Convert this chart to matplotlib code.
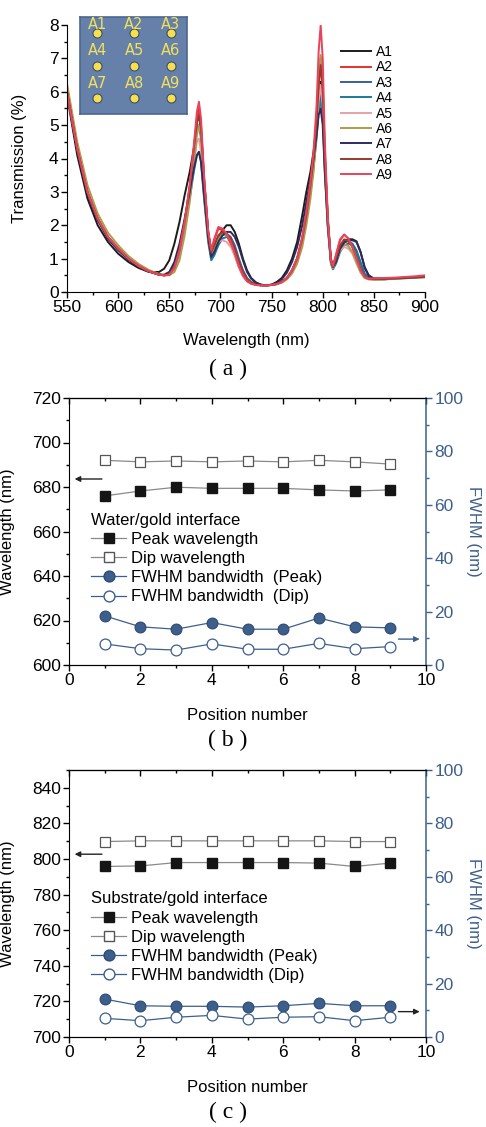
import matplotlib
matplotlib.use("Agg")
import matplotlib.pyplot as plt
from matplotlib.lines import Line2D
from matplotlib.ticker import MultipleLocator

plt.rcParams['font.family'] = ['Liberation Sans', 'DejaVu Sans']

# ---- (a) transmission spectra ----
wl = [550, 560, 570, 580, 590, 600, 610, 620, 630, 640,
      645, 650, 655, 660, 665, 670, 674, 677, 679, 681,
      684, 688, 691, 694, 698, 702, 706, 710, 714, 718,
      722, 726, 730, 735, 740, 745, 750, 755, 760, 765,
      770, 775, 780, 784, 788, 791, 794, 796, 798, 800,
      802, 805, 808, 810, 813, 817, 821, 825, 829, 833,
      837, 841, 845, 850, 860, 870, 880, 890, 900]

A1 = [5.9, 4.1, 2.8, 2.0, 1.5, 1.15, 0.9, 0.72, 0.6, 0.6,
      0.7, 0.95, 1.45, 2.1, 2.9, 3.6, 4.3, 5.1, 5.3, 4.8,
      3.3, 1.8, 1.2, 1.35, 1.65, 1.85, 2.0, 2.0, 1.8, 1.45,
      1.0, 0.65, 0.42, 0.28, 0.22, 0.2, 0.22, 0.3, 0.42, 0.65,
      1.0, 1.5, 2.3, 3.0, 3.6, 4.2, 5.0, 5.8, 6.3, 5.6,
      4.0, 2.2, 1.0, 0.78, 0.95, 1.35, 1.52, 1.58, 1.58, 1.52,
      1.2, 0.75, 0.5, 0.4, 0.4, 0.41, 0.42, 0.44, 0.46]
A2 = [6.0, 4.3, 3.0, 2.2, 1.65, 1.3, 1.0, 0.78, 0.62, 0.52,
      0.5, 0.52, 0.7, 1.2, 2.0, 3.1, 4.2, 5.2, 5.5, 5.0,
      3.4, 1.8, 1.25, 1.55, 1.9, 1.85, 1.7, 1.45, 1.1, 0.75,
      0.48, 0.32, 0.25, 0.21, 0.2, 0.2, 0.21, 0.24, 0.3, 0.42,
      0.65, 1.0, 1.6, 2.3, 3.2, 4.0, 5.2, 6.3, 7.0, 6.2,
      4.2, 2.1, 0.95, 0.78, 1.1, 1.55, 1.72, 1.6, 1.35, 1.0,
      0.65, 0.45, 0.4, 0.4, 0.4, 0.41, 0.43, 0.44, 0.47]
A3 = [6.0, 4.3, 3.0, 2.2, 1.65, 1.3, 1.0, 0.78, 0.62, 0.52,
      0.5, 0.55, 0.8, 1.3, 2.1, 3.1, 4.1, 4.9, 5.0, 4.6,
      3.2, 1.7, 1.05, 1.2, 1.5, 1.7, 1.75, 1.65, 1.4, 1.0,
      0.65, 0.42, 0.3, 0.24, 0.2, 0.2, 0.21, 0.24, 0.3, 0.42,
      0.65, 1.0, 1.6, 2.3, 3.1, 3.8, 4.8, 5.6, 6.0, 5.4,
      3.8, 2.0, 0.9, 0.72, 0.9, 1.3, 1.5, 1.52, 1.45, 1.25,
      0.9, 0.55, 0.42, 0.38, 0.38, 0.4, 0.42, 0.43, 0.45]
A4 = [6.0, 4.3, 3.0, 2.2, 1.65, 1.3, 1.0, 0.78, 0.62, 0.52,
      0.5, 0.52, 0.7, 1.15, 1.9, 2.8, 3.6, 4.1, 4.2, 3.9,
      2.8, 1.5, 0.95, 1.1, 1.4, 1.6, 1.65, 1.6, 1.35, 0.95,
      0.62, 0.4, 0.28, 0.22, 0.2, 0.2, 0.21, 0.24, 0.3, 0.42,
      0.63, 0.98, 1.55, 2.2, 3.0, 3.7, 4.6, 5.4, 5.8, 5.2,
      3.7, 1.9, 0.85, 0.68, 0.85, 1.2, 1.4, 1.45, 1.4, 1.2,
      0.85, 0.52, 0.41, 0.38, 0.38, 0.4, 0.42, 0.43, 0.45]
A5 = [6.0, 4.3, 3.0, 2.2, 1.65, 1.3, 1.0, 0.78, 0.62, 0.52,
      0.5, 0.52, 0.72, 1.2, 2.0, 3.0, 3.9, 4.5, 4.6, 4.2,
      3.0, 1.6, 1.1, 1.3, 1.5, 1.55, 1.5, 1.35, 1.1, 0.78,
      0.5, 0.34, 0.26, 0.21, 0.2, 0.2, 0.21, 0.24, 0.3, 0.42,
      0.62, 0.95, 1.5, 2.2, 3.0, 3.8, 4.9, 5.7, 6.2, 5.6,
      3.9, 2.0, 0.9, 0.72, 0.95, 1.25, 1.35, 1.3, 1.15, 0.85,
      0.58, 0.42, 0.38, 0.37, 0.38, 0.4, 0.41, 0.43, 0.45]
A6 = [6.25, 4.5, 3.2, 2.35, 1.78, 1.4, 1.08, 0.84, 0.66, 0.54,
      0.5, 0.5, 0.6, 0.95, 1.7, 2.7, 3.8, 4.7, 5.0, 4.7,
      3.3, 1.7, 1.1, 1.3, 1.6, 1.75, 1.7, 1.55, 1.25, 0.88,
      0.56, 0.36, 0.27, 0.21, 0.2, 0.2, 0.21, 0.23, 0.28, 0.38,
      0.55, 0.85, 1.35, 2.0, 2.8, 3.6, 4.8, 6.2, 7.1, 6.3,
      4.3, 2.1, 0.9, 0.72, 0.95, 1.3, 1.42, 1.38, 1.2, 0.9,
      0.6, 0.42, 0.38, 0.37, 0.38, 0.4, 0.41, 0.43, 0.44]
A7 = [6.0, 4.25, 2.95, 2.15, 1.6, 1.25, 0.97, 0.76, 0.61, 0.52,
      0.52, 0.6, 0.9, 1.45, 2.2, 3.0, 3.7, 4.1, 4.2, 3.9,
      2.9, 1.6, 1.05, 1.2, 1.5, 1.7, 1.8, 1.8, 1.65, 1.35,
      0.95, 0.6, 0.4, 0.27, 0.21, 0.2, 0.22, 0.27, 0.38, 0.58,
      0.9, 1.35, 2.0, 2.7, 3.4, 4.0, 4.7, 5.3, 5.5, 5.0,
      3.6, 2.0, 0.95, 0.75, 0.9, 1.3, 1.48, 1.55, 1.55, 1.5,
      1.2, 0.72, 0.48, 0.4, 0.4, 0.41, 0.42, 0.44, 0.46]
A8 = [6.0, 4.3, 3.0, 2.2, 1.65, 1.3, 1.0, 0.78, 0.62, 0.52,
      0.5, 0.53, 0.75, 1.25, 2.1, 3.2, 4.3, 5.1, 5.3, 4.9,
      3.4, 1.8, 1.2, 1.4, 1.7, 1.8, 1.75, 1.6, 1.3, 0.92,
      0.6, 0.38, 0.28, 0.22, 0.2, 0.2, 0.21, 0.24, 0.3, 0.42,
      0.64, 1.0, 1.6, 2.3, 3.2, 4.0, 5.1, 6.2, 6.8, 6.0,
      4.1, 2.1, 0.92, 0.75, 1.0, 1.4, 1.58, 1.52, 1.35, 1.05,
      0.7, 0.46, 0.4, 0.39, 0.4, 0.41, 0.43, 0.44, 0.46]
A9 = [6.0, 4.3, 3.0, 2.2, 1.65, 1.3, 1.0, 0.78, 0.62, 0.52,
      0.5, 0.52, 0.72, 1.25, 2.1, 3.2, 4.4, 5.4, 5.7, 5.2,
      3.5, 1.85, 1.25, 1.6, 1.95, 1.9, 1.75, 1.5, 1.15, 0.78,
      0.5, 0.33, 0.25, 0.21, 0.2, 0.2, 0.21, 0.24, 0.3, 0.42,
      0.66, 1.02, 1.65, 2.4, 3.3, 4.2, 5.6, 7.2, 8.0, 7.0,
      4.6, 2.2, 0.95, 0.78, 1.12, 1.58, 1.72, 1.6, 1.35, 1.0,
      0.65, 0.45, 0.4, 0.41, 0.42, 0.43, 0.45, 0.47, 0.5]

spectra = [A1, A2, A3, A4, A5, A6, A7, A8, A9]
names = ['A1', 'A2', 'A3', 'A4', 'A5', 'A6', 'A7', 'A8', 'A9']
colors = ['#1c1c1c', '#e8302a', '#3b5f98', '#1b7a98', '#e6a1a8',
          '#b09a4c', '#2e2c5e', '#9a3a2e', '#e8435a']

# ---- (b) water/gold interface ----
pos = [1, 2, 3, 4, 5, 6, 7, 8, 9]
b_peak = [676.0, 678.2, 679.9, 679.4, 679.4, 679.4, 678.7, 678.2, 678.7]
b_dip = [692.0, 691.3, 691.7, 691.3, 691.7, 691.3, 692.0, 691.3, 690.3]
b_fwhm_peak = [18.4, 14.3, 13.4, 15.9, 13.4, 13.4, 17.6, 14.3, 13.9]
b_fwhm_dip = [7.9, 6.1, 5.6, 7.9, 5.9, 5.9, 8.1, 6.1, 6.9]

# ---- (c) substrate/gold interface ----
c_peak = [795.8, 796.1, 798.0, 798.0, 798.0, 798.0, 797.7, 795.8, 797.7]
c_dip = [809.8, 810.2, 810.2, 810.2, 810.2, 810.2, 810.2, 809.8, 809.8]
c_fwhm_peak = [14.2, 11.7, 11.5, 11.5, 11.2, 11.7, 12.6, 11.7, 11.7]
c_fwhm_dip = [7.0, 6.1, 7.4, 8.1, 6.7, 7.4, 7.6, 6.1, 7.4]

blue = '#3d5f8c'
grey = '#8a8a8a'
W, H = 486, 1127
TICK = 12.5
LAB = 12

fig = plt.figure(figsize=(W / 100, H / 100), dpi=100)


def box(l, t, r, b):
    return [l / W, 1 - b / H, (r - l) / W, (b - t) / H]


# ===== panel (a) =====
ax = fig.add_axes(box(67, 25, 425, 292))
for y, n, c in zip(spectra, names, colors):
    ax.plot(wl, y, color=c, lw=1.4, label=n)
ax.set_xlim(550, 900)
ax.set_ylim(0, 8)
ax.xaxis.set_major_locator(MultipleLocator(50))
ax.xaxis.set_minor_locator(MultipleLocator(25))
ax.yaxis.set_major_locator(MultipleLocator(1))
ax.yaxis.set_minor_locator(MultipleLocator(0.5))
ax.spines['top'].set_visible(False)
ax.spines['right'].set_visible(False)
ax.tick_params(which='both', direction='out', labelsize=TICK, width=1, pad=2)
ax.tick_params(which='major', length=4)
ax.tick_params(which='minor', length=2.5)
ax.set_xlabel('Wavelength (nm)', fontsize=LAB)
ax.set_ylabel('Transmission (%)', fontsize=LAB)
ax.xaxis.set_label_coords(0.5, -0.154)
ax.yaxis.set_label_coords(-0.112, 0.5)
ax.legend(loc='upper left', bbox_to_anchor=(0.765, 0.925), frameon=False,
          fontsize=10, handlelength=2.2, handletextpad=0.3, labelspacing=0.1,
          borderpad=0, borderaxespad=0)

# inset: sample positions
ins = fig.add_axes(box(80, 17, 187, 114))
ins.set_facecolor('#6581aa')
for s in ins.spines.values():
    s.set_color('#4a6790')
    s.set_linewidth(1.2)
ins.set_xticks([])
ins.set_yticks([])
ins.set_xlim(0, 1)
ins.set_ylim(0, 1)
for i, n in enumerate(names):
    col, row = i % 3, i // 3
    x = 0.16 + 0.345 * col
    y = 0.835 - 0.335 * row
    ins.plot(x, y, 'o', ms=6.5, mfc='#f8e04c', mec='#3d5070', mew=0.8)
    ty = y + (0.09 if row == 0 else 0.15)
    ins.text(x, ty, n, color='#f4e05a', fontsize=10.5, ha='center', va='center',
             family='DejaVu Sans')


# ===== panels (b) and (c) =====
def pos_panel(rect, peak, dip, fp, fd, ylim, ymaj, ymin, title, lab_peak, lab_dip,
              leg_y, larrow_y, rarrow_y, rarrow_col):
    a = fig.add_axes(rect)
    a2 = a.twinx()
    a.plot(pos, dip, '-', color=grey, lw=0.9, marker='s', ms=7.5, mfc='white',
           mec='#555555', mew=0.9, zorder=3)
    a.plot(pos, peak, '-', color=grey, lw=0.9, marker='s', ms=7.5, mfc='#151515',
           mec='#151515', zorder=3)
    a2.plot(pos, fp, '-', color=blue, lw=0.9, marker='o', ms=7.8, mfc=blue,
            mec='#2d4a72', mew=0.8)
    a2.plot(pos, fd, '-', color=blue, lw=0.9, marker='o', ms=7.8, mfc='white',
            mec=blue, mew=0.9)
    a.set_xlim(0, 10)
    a.set_ylim(*ylim)
    a2.set_ylim(0, 100)
    a.xaxis.set_major_locator(MultipleLocator(2))
    a.xaxis.set_minor_locator(MultipleLocator(1))
    a.yaxis.set_major_locator(MultipleLocator(ymaj))
    a.yaxis.set_minor_locator(MultipleLocator(ymin))
    a2.yaxis.set_major_locator(MultipleLocator(20))
    a2.yaxis.set_minor_locator(MultipleLocator(10))
    a.tick_params(which='both', direction='out', labelsize=TICK, width=1, pad=2)
    a.tick_params(which='major', length=4)
    a.tick_params(which='minor', length=2.5)
    a2.tick_params(which='both', direction='out', labelsize=TICK, width=1,
                   colors=blue, pad=2)
    a2.tick_params(which='major', length=4)
    a2.tick_params(which='minor', length=2.5)
    a.spines['right'].set_visible(False)
    a2.spines['right'].set_color(blue)
    a2.spines['right'].set_linewidth(1.1)
    a2.spines['left'].set_visible(False)
    top = a.secondary_xaxis('top')
    top.xaxis.set_major_locator(MultipleLocator(2))
    top.xaxis.set_minor_locator(MultipleLocator(1))
    top.tick_params(which='both', direction='in', labeltop=False, width=1)
    top.tick_params(which='major', length=4)
    top.tick_params(which='minor', length=2.5)
    a.set_xlabel('Position number', fontsize=LAB)
    a.set_ylabel('Wavelength (nm)', fontsize=LAB)
    a2.set_ylabel('FWHM (nm)', fontsize=LAB, color=blue, rotation=270)
    a.xaxis.set_label_coords(0.5, -0.161)
    a.yaxis.set_label_coords(-0.151, 0.5)
    a2.yaxis.set_label_coords(1.155, 0.5)

    a.annotate('', xy=(0.08, larrow_y), xytext=(1.0, larrow_y),
               arrowprops=dict(arrowstyle='-|>', color='#222222', lw=1,
                               mutation_scale=8))
    a2.annotate('', xy=(9.9, rarrow_y), xytext=(9.15, rarrow_y),
                arrowprops=dict(arrowstyle='-|>', color=rarrow_col, lw=1,
                                mutation_scale=8))

    handles = [
        Line2D([], [], color=grey, lw=0.9, marker='s', ms=7.5, mfc='#151515',
               mec='#151515'),
        Line2D([], [], color=grey, lw=0.9, marker='s', ms=7.5, mfc='white',
               mec='#555555'),
        Line2D([], [], color=blue, lw=0.9, marker='o', ms=7.8, mfc=blue,
               mec='#2d4a72'),
        Line2D([], [], color=blue, lw=0.9, marker='o', ms=7.8, mfc='white',
               mec=blue),
    ]
    labels = ['Peak wavelength', 'Dip wavelength', lab_peak, lab_dip]
    leg = a.legend(handles, labels, title=title, loc='upper left',
                   bbox_to_anchor=(0.062, leg_y), frameon=False, fontsize=12,
                   title_fontsize=12, handlelength=2.1, handletextpad=0.3,
                   labelspacing=0.25, borderpad=0, borderaxespad=0,
                   alignment='left')
    leg.set_zorder(5)
    return a


pos_panel(box(69, 398, 426, 665), b_peak, b_dip, b_fwhm_peak, b_fwhm_dip,
          (600, 720), 20, 10, 'Water/gold interface',
          'FWHM bandwidth  (Peak)', 'FWHM bandwidth  (Dip)', 0.57, 683.6, 9.7,
          blue)
pos_panel(box(69, 770, 426, 1037), c_peak, c_dip, c_fwhm_peak, c_fwhm_dip,
          (700, 850), 20, 10, 'Substrate/gold interface',
          'FWHM bandwidth (Peak)', 'FWHM bandwidth (Dip)', 0.545, 802.7, 9.5,
          '#222222')

for lab, yc in (('( a )', 369), ('( b )', 740), ('( c )', 1112)):
    fig.text(228 / W, 1 - yc / H, lab, ha='center', va='center', fontsize=17,
             family='Liberation Serif')

fig.savefig('out.png', dpi=100)
